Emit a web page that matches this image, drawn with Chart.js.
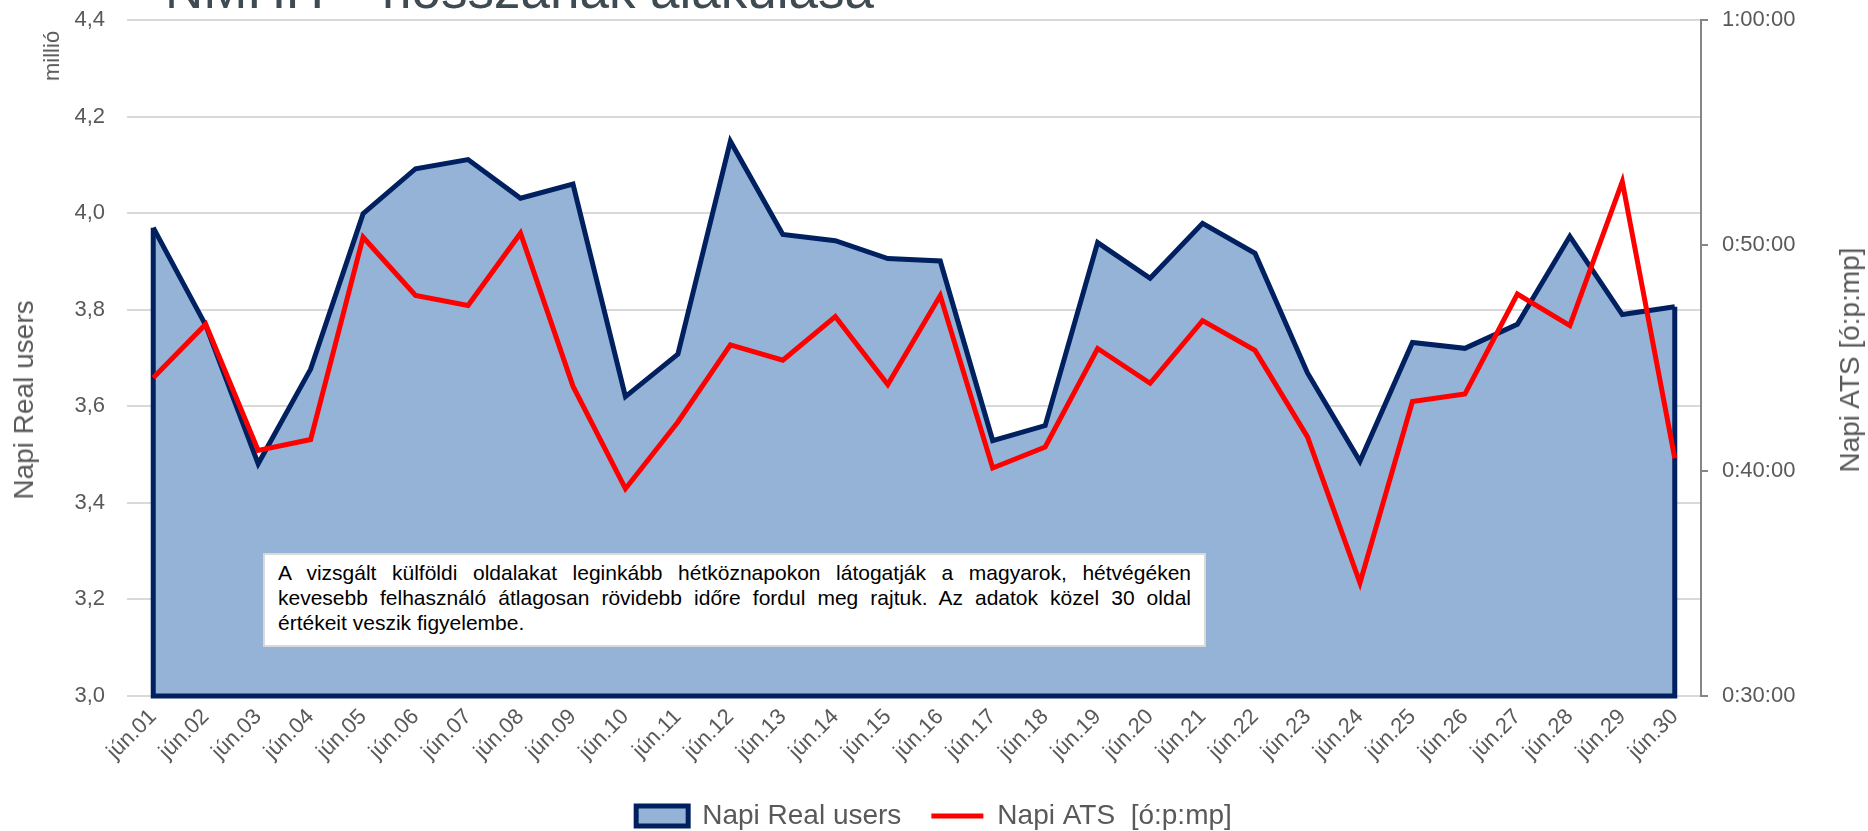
<!DOCTYPE html>
<html lang="hu">
<head>
<meta charset="utf-8">
<title>Napi Real users és ATS</title>
<script src="https://cdn.jsdelivr.net/npm/chart.js@4.4.1/dist/chart.umd.min.js"></script>
<style>
    html, body { margin: 0; padding: 0; background: #ffffff; }
    #wrap { position: relative; width: 1868px; height: 831px; overflow: hidden; font-family: "Liberation Sans", Arial, sans-serif; }
    #salesChart { position: absolute; left: 0; top: 0; }
    .title { position: absolute; top: -37px; font-size: 53px; line-height: 53px; color: #3f4b53; white-space: nowrap; }
    .rot { position: absolute; transform: translate(-50%, -50%) rotate(-90deg); white-space: nowrap; color: #595959; }
    #note {
        position: absolute; left: 263px; top: 553px; width: 943px; height: 94px;
        box-sizing: border-box; border: 2px solid #d9d9d9; background: #ffffff;
        padding: 5px 13px 0 13px; font-family: "Liberation Sans Narrow", "Liberation Sans", Arial, sans-serif;
        font-size: 21px; line-height: 25px; color: #000000;
    }
    #note .j { display: block; text-align: justify; text-align-last: justify; }
    #note .l { display: block; text-align: left; }
</style>
</head>
<body>
<div id="wrap">
    <canvas id="salesChart" width="1868" height="831"></canvas>
    <div class="title" style="left:165px">NMHH</div>
    <div class="title" style="left:382px">hosszának alakulása</div>
    <div class="rot" style="left:52px; top:56px; font-size:22px">millió</div>
    <div class="rot" style="left:24px; top:400px; font-size:28px">Napi Real users</div>
    <div class="rot" style="left:1850px; top:360px; font-size:28px">Napi ATS [ó:p:mp]</div>
    <div id="note">
        <span class="j">A vizsgált külföldi oldalakat leginkább hétköznapokon látogatják a magyarok, hétvégéken</span>
        <span class="j">kevesebb felhasználó átlagosan rövidebb időre fordul meg rajtuk. Az adatok közel 30 oldal</span>
        <span class="l">értékeit veszik figyelembe.</span>
    </div>
</div>
<script>
// napok
const days = ["jún.01", "jún.02", "jún.03", "jún.04", "jún.05", "jún.06", "jún.07", "jún.08", "jún.09", "jún.10",
    "jún.11", "jún.12", "jún.13", "jún.14", "jún.15", "jún.16", "jún.17", "jún.18", "jún.19", "jún.20",
    "jún.21", "jún.22", "jún.23", "jún.24", "jún.25", "jún.26", "jún.27", "jún.28", "jún.29", "jún.30"];

// Napi Real users (millió)
const realUsers = [3.970, 3.768, 3.481, 3.677, 3.999, 4.092, 4.111, 4.031, 4.060, 3.620,
    3.708, 4.149, 3.956, 3.943, 3.906, 3.901, 3.529, 3.560, 3.939, 3.865,
    3.979, 3.917, 3.669, 3.486, 3.732, 3.720, 3.770, 3.952, 3.790, 3.806];

// Napi ATS (perc)
const atsMinutes = [44.12, 46.50, 40.90, 41.38, 50.36, 47.78, 47.33, 50.54, 43.75, 39.20,
    42.16, 45.58, 44.90, 46.84, 43.82, 47.77, 40.12, 41.05, 45.42, 43.88,
    46.66, 45.34, 41.50, 35.02, 43.07, 43.40, 47.84, 46.44, 52.83, 40.55];

const userTickLabels = ["3,0", "3,2", "3,4", "3,6", "3,8", "4,0", "4,2", "4,4"];
const atsTickLabels = ["0:30:00", "0:40:00", "0:50:00", "1:00:00"];

const tickColor = "#595959";

// az area két oldalát és alját is körberajzoljuk
const areaEdges = {
    id: "areaEdges",
    afterDatasetDraw(chart, args) {
        if (args.index !== 0) return;
        const pts = args.meta.data;
        if (!pts.length) return;
        const yScale = chart.scales.y;
        const bottom = yScale.getPixelForValue(yScale.min);
        const first = pts[0], last = pts[pts.length - 1];
        const ctx = chart.ctx;
        ctx.save();
        ctx.strokeStyle = "#002060";
        ctx.lineWidth = 5;
        ctx.lineJoin = "miter";
        ctx.beginPath();
        ctx.moveTo(first.x, first.y);
        ctx.lineTo(first.x, bottom);
        ctx.lineTo(last.x, bottom);
        ctx.lineTo(last.x, last.y);
        ctx.stroke();
        ctx.restore();
    }
};

// a tick padding ne tolja lejjebb a rajzterület tetejét
function fixVertical(width) {
    return function (scale) {
        scale.width = width;
        scale.paddingTop = 0;
        scale.paddingBottom = 0;
    };
}

const ctx = document.getElementById("salesChart").getContext("2d");
new Chart(ctx, {
    type: "line",
    data: {
        labels: days,
        datasets: [{
            label: "Napi Real users",
            data: realUsers,
            yAxisID: "y",
            borderColor: "#002060",
            backgroundColor: "#95b3d7",
            borderWidth: 5,
            borderJoinStyle: "miter",
            fill: "start",
            pointRadius: 0,
            pointStyle: "rect",
            order: 2
        }, {
            label: "Napi ATS  [ó:p:mp]",
            data: atsMinutes,
            yAxisID: "y2",
            borderColor: "#ff0000",
            backgroundColor: "#ff0000",
            borderWidth: 5,
            borderJoinStyle: "miter",
            fill: false,
            pointRadius: 0,
            pointStyle: "line",
            order: 1
        }]
    },
    options: {
        responsive: false,
        animation: false,
        layout: { padding: { top: 20, bottom: -9, left: 0, right: 0 } },
        plugins: {
            tooltip: { enabled: false },
            legend: {
                position: "bottom",
                labels: {
                    usePointStyle: true,
                    pointStyleWidth: 52,
                    boxHeight: 20,
                    padding: 30,
                    color: tickColor,
                    font: { family: "Liberation Sans", size: 28 },
                    sort: (a, b) => a.datasetIndex - b.datasetIndex
                }
            }
        },
        scales: {
            x: {
                offset: true,
                grid: { display: false, drawTicks: false },
                border: { display: false },
                ticks: {
                    autoSkip: false,
                    maxRotation: 45,
                    minRotation: 45,
                    padding: 8,
                    color: tickColor,
                    font: { family: "Liberation Sans", size: 22 }
                },
                afterFit(scale) { scale.height = 76; }
            },
            y: {
                position: "left",
                min: 3.0,
                max: 4.4,
                grid: { color: "#d9d9d9", lineWidth: 2, drawTicks: false },
                border: { display: false },
                ticks: {
                    stepSize: 0.2,
                    padding: 22,
                    color: tickColor,
                    font: { family: "Liberation Sans", size: 22 },
                    callback: (v, i) => userTickLabels[i]
                },
                afterFit: fixVertical(127)
            },
            y2: {
                position: "right",
                min: 30,
                max: 60,
                grid: { drawOnChartArea: false, drawTicks: true, tickLength: 7, color: "#868686", lineWidth: 2 },
                border: { display: true, color: "#868686", width: 2 },
                ticks: {
                    stepSize: 10,
                    padding: 14,
                    color: tickColor,
                    font: { family: "Liberation Sans", size: 22 },
                    callback: (v, i) => atsTickLabels[i]
                },
                afterFit: fixVertical(167)
            }
        }
    },
    plugins: [areaEdges]
});
</script>
</body>
</html>
